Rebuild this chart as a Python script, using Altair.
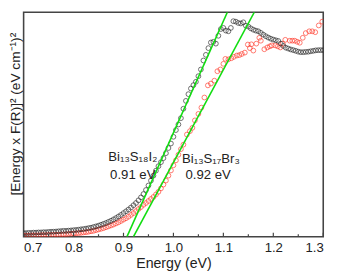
import altair as alt
import pandas as pd

# ---------------- data ----------------
energy_black = [
    0.700, 0.705, 0.710, 0.715, 0.720, 0.725, 0.730, 0.735, 0.740, 0.745,
    0.750, 0.755, 0.760, 0.765, 0.770, 0.775, 0.780, 0.785, 0.790, 0.795,
    0.800, 0.805, 0.810, 0.815, 0.820, 0.825, 0.830, 0.835, 0.840, 0.845,
    0.850, 0.855, 0.860, 0.865, 0.870, 0.875, 0.880, 0.885, 0.890, 0.895,
    0.900, 0.905, 0.910, 0.915, 0.920, 0.925, 0.930, 0.935, 0.940, 0.945,
    0.950, 0.955, 0.960, 0.965, 0.970, 0.975, 0.980, 0.985, 0.990, 0.995,
    1.000, 1.005, 1.010, 1.015, 1.020, 1.025, 1.030, 1.035, 1.040, 1.045,
    1.050, 1.055, 1.060, 1.065, 1.070, 1.075, 1.080, 1.085, 1.090, 1.095,
    1.100, 1.105, 1.110, 1.115, 1.120, 1.125, 1.130, 1.135, 1.140, 1.145,
    1.150, 1.155, 1.160, 1.165, 1.170, 1.175, 1.180, 1.185, 1.190, 1.195,
    1.200, 1.205, 1.210, 1.215, 1.220, 1.225, 1.230, 1.235, 1.240, 1.245,
    1.250, 1.255, 1.260, 1.265, 1.270, 1.275, 1.280, 1.285, 1.290, 1.295,
    1.300,
]
value_black = [
    1.6, 1.6, 1.7, 1.7, 1.8, 1.8, 1.9, 1.9, 2.0, 2.0,
    2.1, 2.2, 2.2, 2.3, 2.4, 2.5, 2.6, 2.6, 2.7, 2.8,
    2.9, 3.0, 3.1, 3.3, 3.4, 3.6, 3.8, 4.0, 4.3, 4.6,
    4.9, 5.3, 5.7, 6.1, 6.6, 7.1, 7.7, 8.3, 9.0, 9.7,
    10.5, 11.3, 12.1, 13.0, 14.0, 15.0, 16.2, 17.5, 19.0, 20.8,
    22.8, 25.0, 27.2, 29.4, 31.4, 33.2, 35.0, 37.2, 39.5, 41.5,
    44.5, 47.5, 50.0, 52.8, 57.0, 60.5, 63.5, 66.0, 67.5, 69.0,
    71.5, 74.5, 78.5, 81.0, 84.0, 86.5, 86.8, 86.0, 89.5, 92.5,
    93.0, 91.8, 91.5, 93.0, 96.0, 95.8, 95.2, 95.0, 95.5, 94.0,
    93.6, 92.8, 92.2, 91.8, 91.5, 90.8, 90.0, 89.3, 88.7, 88.2,
    87.8, 87.5, 87.2, 86.0, 85.0, 84.2, 83.8, 83.4, 83.1, 82.8,
    82.4, 82.2, 82.2, 82.3, 82.4, 82.6, 82.8, 83.0, 83.1, 83.1,
    83.1,
]

energy_red = [
    0.700, 0.705, 0.710, 0.715, 0.720, 0.725, 0.730, 0.735, 0.740, 0.745,
    0.750, 0.755, 0.760, 0.765, 0.770, 0.775, 0.780, 0.785, 0.790, 0.795,
    0.800, 0.805, 0.810, 0.815, 0.820, 0.825, 0.830, 0.835, 0.840, 0.845,
    0.850, 0.855, 0.860, 0.865, 0.870, 0.875, 0.880, 0.885, 0.890, 0.895,
    0.900, 0.905, 0.910, 0.915, 0.920, 0.925, 0.930, 0.935, 0.940, 0.945,
    0.950, 0.955, 0.960, 0.965, 0.970, 0.975, 0.980, 0.985, 0.990, 0.995,
    1.000, 1.005, 1.010, 1.015, 1.020,
    1.027, 1.033, 1.038, 1.043, 1.050, 1.056, 1.062, 1.069, 1.075, 1.082,
    1.088, 1.094, 1.100, 1.104, 1.110, 1.116, 1.121, 1.127, 1.132, 1.137,
    1.143, 1.149, 1.153, 1.156, 1.160, 1.166, 1.172, 1.175, 1.182, 1.188,
    1.193, 1.197, 1.204, 1.209, 1.214, 1.219, 1.224, 1.233, 1.238, 1.243,
    1.248, 1.253, 1.259, 1.265, 1.272, 1.278, 1.284, 1.291, 1.298,
]
value_red = [
    0.5, 0.5, 0.5, 0.6, 0.6, 0.6, 0.6, 0.7, 0.7, 0.7,
    0.8, 0.8, 0.8, 0.9, 0.9, 1.0, 1.0, 1.1, 1.2, 1.3,
    1.4, 1.5, 1.6, 1.7, 1.9, 2.0, 2.2, 2.4, 2.6, 2.9,
    3.2, 3.5, 3.8, 4.2, 4.6, 5.0, 5.4, 5.9, 6.4, 7.0,
    7.6, 8.2, 8.9, 9.7, 10.5, 11.4, 12.3, 13.2, 14.2, 15.0,
    15.9, 16.8, 17.7, 18.8, 20.0, 21.5, 23.2, 25.0, 27.2, 29.5,
    31.8, 34.0, 36.5, 39.0, 41.0,
    45.5, 47.0, 48.5, 51.8, 54.7, 57.5, 62.0, 67.4, 68.2, 69.5,
    73.7, 74.5, 77.0, 79.2, 79.0, 79.5, 80.1, 80.7, 80.9, 81.4,
    82.0, 85.6, 84.0, 85.7, 82.9, 86.0, 88.6, 87.3, 83.5, 84.3,
    84.8, 85.2, 85.2, 84.8, 84.3, 86.0, 87.7, 87.3, 87.3, 87.3,
    86.8, 86.4, 88.6, 90.7, 91.5, 91.5, 91.1, 94.1, 95.8,
]

series_names = ["Bi13S17Br3", "Bi13S18I2"]
series_colors = ["#ff2a1a", "#1a1a1a"]

# linear fits (Tauc extrapolation): energy at value 0 and at value 100
fit_energy_black = [0.907, 1.108]
fit_energy_red = [0.920, 1.162]
fit_value = [0, 100]

major_ticks = [0.7, 0.8, 0.9, 1.0, 1.1, 1.2, 1.3]
minor_ticks = [0.75, 0.85, 0.95, 1.05, 1.15, 1.25]

label_black = ["Bi₁₃S₁₈I₂", "0.91 eV"]
label_red = ["Bi₁₃S₁₇Br₃", "0.92 eV"]

# ---------------- chart ----------------
W, H = 307, 230
FONT = "Liberation Sans"
FRAME = "#444444"
TXT = "#222222"

pts = pd.concat([
    pd.DataFrame({"energy": energy_red, "value": value_red, "sample": series_names[0]}),
    pd.DataFrame({"energy": energy_black, "value": value_black, "sample": series_names[1]}),
], ignore_index=True)

fits = pd.concat([
    pd.DataFrame({"energy": fit_energy_black, "value": fit_value, "fit": "black"}),
    pd.DataFrame({"energy": fit_energy_red, "value": fit_value, "fit": "red"}),
], ignore_index=True)

xs = alt.Scale(domain=[0.7, 1.3], nice=False, zero=False)
ys = alt.Scale(domain=[0, 100], nice=False, zero=False)

points = alt.Chart(pts).mark_point(
    shape="circle", filled=False, size=24, strokeWidth=0.9, clip=True
).encode(
    x=alt.X("energy:Q", scale=xs, axis=alt.Axis(
        values=major_ticks, format=".1f", title="Energy (eV)",
        domain=False, ticks=False, grid=False,
        labelFontSize=13.5, labelFont=FONT, labelColor=TXT, labelPadding=4,
        titleFontSize=14.5, titleFont=FONT, titleFontWeight="normal", titleColor=TXT,
        titlePadding=3,
    )),
    y=alt.Y("value:Q", scale=ys, axis=alt.Axis(
        title="[Energy x F(R)]² (eV cm⁻¹)²", labels=False, ticks=False,
        domain=False, grid=False,
        titleFontSize=14, titleFont=FONT, titleFontWeight="normal", titleColor=TXT,
        titlePadding=1, titleY=104,
    )),
    color=alt.Color("sample:N", scale=alt.Scale(domain=series_names, range=series_colors), legend=None),
)

lines = alt.Chart(fits).mark_line(color="#11dd11", strokeWidth=1.6, clip=True).encode(
    x=alt.X("energy:Q", scale=xs),
    y=alt.Y("value:Q", scale=ys),
    detail="fit:N",
)

major = alt.Chart(pd.DataFrame({"t": major_ticks})).mark_rule(color=FRAME, strokeWidth=1.2).encode(
    x=alt.X("t:Q", scale=xs), y=alt.value(H), y2=alt.value(H - 4)
)
minor = alt.Chart(pd.DataFrame({"t": minor_ticks})).mark_rule(color=FRAME, strokeWidth=1.2).encode(
    x=alt.X("t:Q", scale=xs), y=alt.value(H), y2=alt.value(H - 2.5)
)

one = pd.DataFrame({"a": [0]})


def label(text, e, v):
    return alt.Chart(one).mark_text(
        font=FONT, fontSize=13.5, color=TXT, align="center", baseline="middle"
    ).encode(
        x=alt.X("e:Q", scale=xs), y=alt.Y("v:Q", scale=ys), text=alt.value(text)
    ).transform_calculate(e=str(e), v=str(v))


texts = [
    label(label_black[0], 0.9186, 35.5),
    label(label_black[1], 0.9186, 27.5),
    label(label_red[0], 1.075, 34.5),
    label(label_red[1], 1.0695, 27.5),
]

chart = alt.layer(points, lines, major, minor, *texts).properties(
    width=W, height=H,
    autosize=alt.AutoSizeParams(type="none"),
    padding={"left": 16, "top": 1, "right": 10, "bottom": 38},
    background="white",
).configure_view(
    stroke=FRAME, strokeWidth=1.6
).configure_axis(
    titleFontWeight="normal"
)

chart.save("out.html", embed_options={"renderer": "svg", "actions": False})
